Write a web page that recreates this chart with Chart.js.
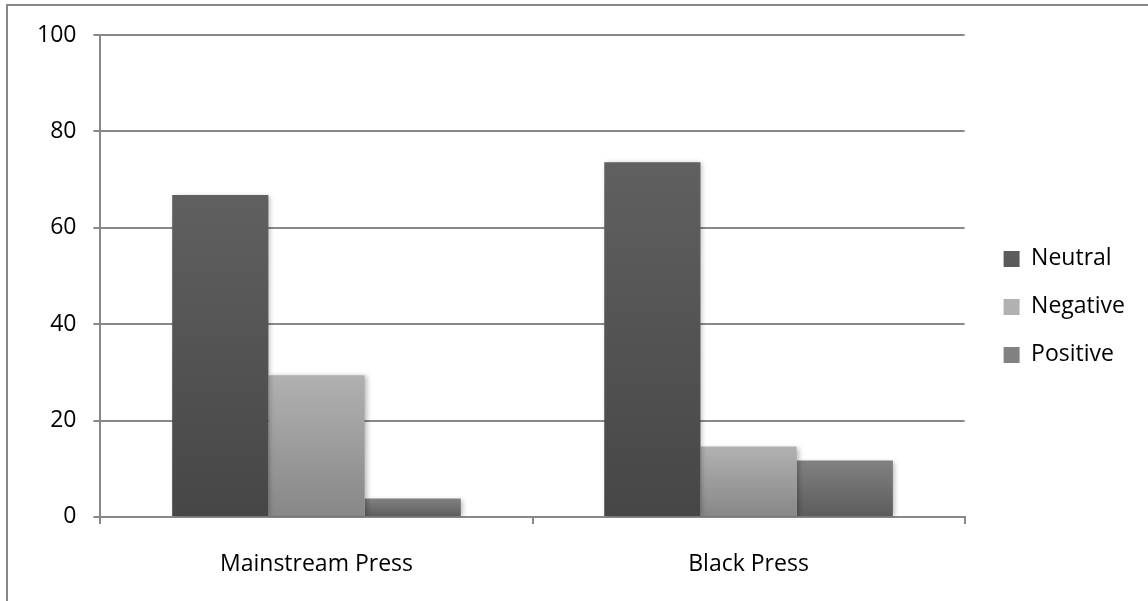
<!DOCTYPE html>
<html>
<head>
<meta charset="utf-8">
<script src="https://cdn.jsdelivr.net/npm/chart.js@4"></script>
<style>
  body { margin: 0; background: #fff; }
  canvas { display: block; }
</style>
</head>
<body>
<canvas id="chart" width="1148" height="601"></canvas>
<script>
var categories = ['Mainstream Press', 'Black Press'];
var neutral = [66.8, 73.6];
var negative = [29.4, 14.6];
var positive = [3.8, 11.7];
var yTicks = [0, 20, 40, 60, 80, 100];

// top, bottom and legend colour for each series
var shades = {
  Neutral: ['#606060', '#464646', '#515151'],
  Negative: ['#b1b1b1', '#878787', '#9d9d9d'],
  Positive: ['#818181', '#5c5c5c', '#6e6e6e']
};

var lineGray = '#888888';
var font = { family: 'Open Sans', size: 23 };

function barFill(name) {
  return function (ctx) {
    var colors = shades[name];
    var chart = ctx.chart;
    if (ctx.type !== 'data' || !chart.chartArea) return colors[2];
    var y = chart.scales.y;
    var top = y.getPixelForValue(ctx.raw);
    var bottom = y.getPixelForValue(0);
    var g = chart.ctx.createLinearGradient(0, top, 0, bottom);
    g.addColorStop(0, colors[0]);
    g.addColorStop(1, colors[1]);
    return g;
  };
}

function series(name, values) {
  return {
    label: name,
    data: values,
    backgroundColor: barFill(name),
    borderWidth: 0,
    categoryPercentage: 0.668,
    barPercentage: 1
  };
}

// white background and the outer frame
var frame = {
  id: 'frame',
  beforeDraw: function (chart) {
    var c = chart.ctx;
    c.save();
    c.fillStyle = '#fff';
    c.fillRect(0, 0, chart.width, chart.height);
    c.strokeStyle = lineGray;
    c.lineWidth = 2;
    c.beginPath();
    c.moveTo(7, chart.height);
    c.lineTo(7, 5);
    c.lineTo(chart.width, 5);
    c.stroke();
    c.restore();
  }
};

// soft drop shadow under the bars
var barShadow = {
  id: 'barShadow',
  beforeDatasetsDraw: function (chart) {
    var c = chart.ctx;
    c.save();
    c.shadowColor = 'rgba(0,0,0,0.28)';
    c.shadowBlur = 5;
    c.shadowOffsetX = 2;
    c.shadowOffsetY = 1;
  },
  afterDatasetsDraw: function (chart) {
    chart.ctx.restore();
  }
};

var chart = new Chart(document.getElementById('chart'), {
  type: 'bar',
  data: {
    labels: categories,
    datasets: [
      series('Neutral', neutral),
      series('Negative', negative),
      series('Positive', positive)
    ]
  },
  options: {
    responsive: false,
    animation: false,
    layout: {
      padding: { left: 20, top: 35, right: 13, bottom: -4.5 }
    },
    scales: {
      x: {
        grid: { offset: true, drawOnChartArea: false, tickLength: 7, color: lineGray, lineWidth: 2 },
        border: { color: lineGray, width: 2 },
        ticks: { color: '#000', font: font, padding: 27 }
      },
      y: {
        min: 0,
        max: 100,
        afterBuildTicks: function (axis) {
          axis.ticks = yTicks.map(function (v) { return { value: v }; });
        },
        grid: { tickLength: 7, color: lineGray, lineWidth: 2 },
        border: { color: lineGray, width: 2 },
        ticks: { color: '#000', font: font, padding: 17 }
      },
      // empty axis that keeps a gap between the plot and the legend
      gap: {
        type: 'linear',
        position: 'right',
        grid: { display: false },
        border: { display: false },
        ticks: { display: false },
        afterFit: function (s) { s.width = 14; }
      }
    },
    plugins: {
      legend: {
        position: 'right',
        align: 'start',
        // empty title only pushes the items down
        title: { display: true, text: '', font: { size: 12 }, padding: { top: 173, bottom: 0 } },
        labels: {
          boxWidth: 16,
          boxHeight: 16,
          padding: 25,
          color: '#000',
          font: font
        }
      },
      tooltip: { enabled: false }
    }
  },
  plugins: [frame, barShadow]
});
</script>
</body>
</html>
